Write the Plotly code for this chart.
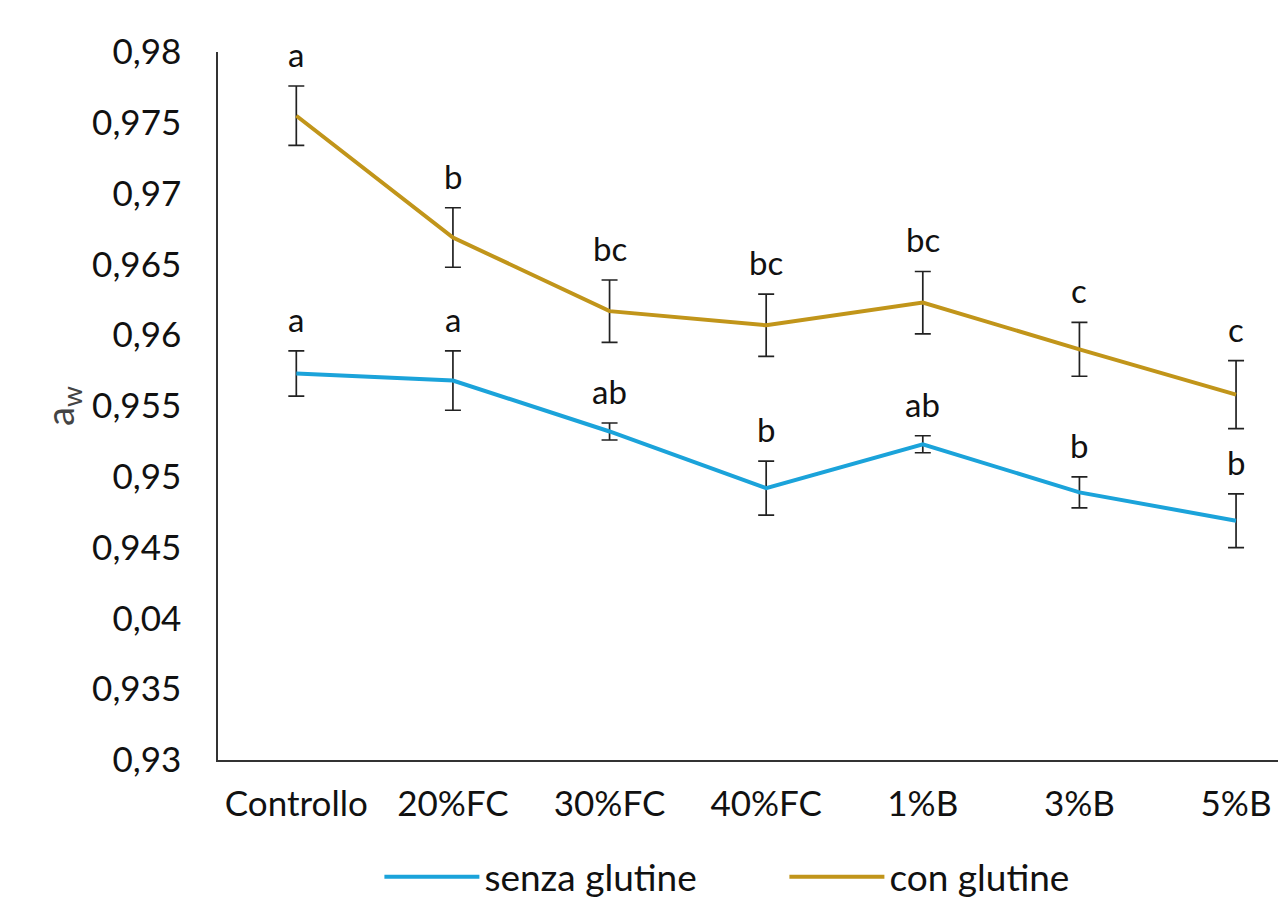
import plotly.graph_objects as go

categories = ["Controllo", "20%FC", "30%FC", "40%FC", "1%B", "3%B", "5%B"]

senza_values = [0.9573, 0.9568, 0.9532, 0.9492, 0.9523, 0.9489, 0.9469]
senza_errors = [0.0016, 0.0021, 0.0006, 0.0019, 0.0006, 0.0011, 0.0019]
senza_letters = ["a", "a", "ab", "b", "ab", "b", "b"]

con_values = [0.9755, 0.9669, 0.9617, 0.9607, 0.9623, 0.9590, 0.9558]
con_errors = [0.0021, 0.0021, 0.0022, 0.0022, 0.0022, 0.0019, 0.0024]
con_letters = ["a", "b", "bc", "bc", "bc", "c", "c"]

y_tick_values = [0.93, 0.935, 0.94, 0.945, 0.95, 0.955, 0.96, 0.965, 0.97, 0.975, 0.98]
y_tick_labels = ["0,93", "0,935", "0,04", "0,945", "0,95", "0,955", "0,96", "0,965", "0,97", "0,975", "0,98"]

BLUE = "#1BA3DA"
GOLD = "#C1951A"
FONT = "Lato"
TXT = "#111111"

fig = go.Figure()

fig.add_trace(go.Scatter(
    x=categories, y=senza_values, mode="lines", name="senza glutine",
    line=dict(color=BLUE, width=4),
    error_y=dict(type="data", array=senza_errors, visible=True,
                 color="#222222", thickness=1.7, width=8),
))
fig.add_trace(go.Scatter(
    x=categories, y=con_values, mode="lines", name="con glutine",
    line=dict(color=GOLD, width=4),
    error_y=dict(type="data", array=con_errors, visible=True,
                 color="#222222", thickness=1.7, width=8),
))

for vals, errs, letters in [(senza_values, senza_errors, senza_letters),
                            (con_values, con_errors, con_letters)]:
    for c, v, e, t in zip(categories, vals, errs, letters):
        fig.add_annotation(x=c, y=v + e, text=t, showarrow=False,
                           yanchor="bottom", yshift=10,
                           font=dict(family=FONT, size=33, color=TXT))

fig.update_layout(
    width=1286, height=897,
    margin=dict(l=210, r=0, t=44, b=145),
    paper_bgcolor="white", plot_bgcolor="white",
    font=dict(family=FONT, size=34, color=TXT),
    showlegend=True,
    legend=dict(orientation="h", x=0.150, xanchor="left",
                yref="container", y=0.031, yanchor="middle",
                font=dict(family=FONT, size=37, color=TXT),
                entrywidth=295, entrywidthmode="pixels", itemwidth=95),
    xaxis=dict(
        type="category", range=[-0.5, 6.37], automargin=False,
        showline=True, linecolor="#333333", linewidth=1.5,
        showgrid=False, ticks="", ticklabelstandoff=12,
        tickfont=dict(family=FONT, size=35, color=TXT),
        zeroline=False,
    ),
    yaxis=dict(
        range=[0.93, 0.98], tickvals=y_tick_values, ticktext=y_tick_labels,
        automargin=False,
        showline=True, linecolor="#333333", linewidth=1.5,
        showgrid=False, ticks="", ticklabelstandoff=28,
        tickfont=dict(family=FONT, size=35, color=TXT),
        zeroline=False,
        title=dict(text="a<sub>w</sub>", standoff=6,
                   font=dict(family=FONT, size=38, color="#444444")),
    ),
)

fig.write_html("out.html")
